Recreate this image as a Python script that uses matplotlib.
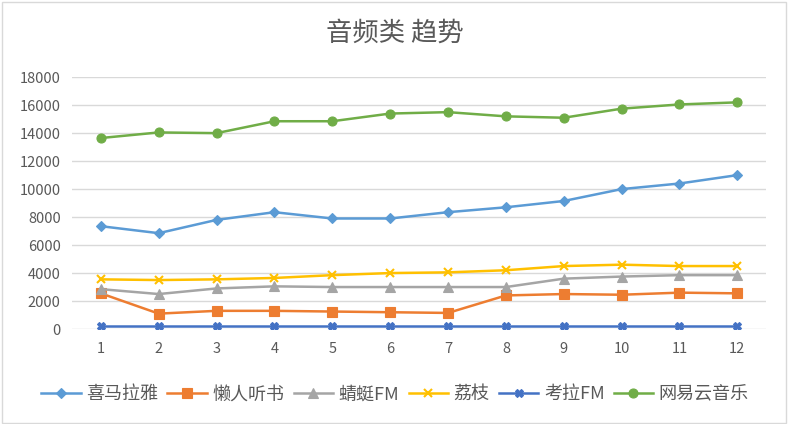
import matplotlib
matplotlib.use('Agg')
import matplotlib.pyplot as plt
from matplotlib.patches import Rectangle

plt.rcParams['font.family'] = ['Noto Sans CJK SC', 'DejaVu Sans']

months = [1, 2, 3, 4, 5, 6, 7, 8, 9, 10, 11, 12]

ximalaya = [7350, 6850, 7800, 8350, 7900, 7900, 8350, 8700, 9150, 10000, 10400, 11000]
lanren = [2550, 1100, 1300, 1300, 1250, 1200, 1150, 2400, 2500, 2450, 2600, 2550]
qingting = [2850, 2500, 2900, 3050, 3000, 3000, 3000, 3000, 3600, 3750, 3850, 3850]
lizhi = [3550, 3500, 3550, 3650, 3850, 4000, 4050, 4200, 4500, 4600, 4500, 4500]
kaola = [250, 250, 250, 250, 250, 250, 250, 250, 250, 250, 250, 250]
wangyi = [13650, 14050, 14000, 14850, 14850, 15400, 15500, 15200, 15100, 15750, 16050, 16200]

series_names = ['喜马拉雅', '懒人听书', '蜻蜓FM', '荔枝', '考拉FM', '网易云音乐']
series_data = [ximalaya, lanren, qingting, lizhi, kaola, wangyi]
colors = ['#5B9BD5', '#ED7D31', '#A5A5A5', '#FFC000', '#4472C4', '#70AD47']
markers = ['D', 's', '^', 'x', 'X', 'o']
msizes = [5, 6.5, 6.5, 5.5, 6, 6.5]

fig = plt.figure(figsize=(7.9, 4.24), dpi=100)
ax = fig.add_axes([0.091, 0.224, 0.879, 0.594])

for name, vals, c, m, ms in zip(series_names, series_data, colors, markers, msizes):
    ax.plot(months, vals, color=c, marker=m, markersize=ms, linewidth=1.8,
            markeredgewidth=1.5 if m == 'x' else 0.8, label=name)

ax.set_xlim(0.5, 12.5)
ax.set_ylim(0, 18000)
ax.set_yticks(range(0, 18001, 2000))
ax.set_xticks(months)
ax.grid(axis='y', color='#D9D9D9', linewidth=1)
ax.set_axisbelow(True)
for s in ax.spines.values():
    s.set_visible(False)
ax.tick_params(length=0, labelsize=10.5, colors='#595959')
ax.tick_params(axis='x', pad=9)
ax.tick_params(axis='y', pad=8)

fig.text(0.5, 0.922, '音频类 趋势', ha='center', va='center', fontsize=19, color='#595959')

fig.legend(loc='center', bbox_to_anchor=(0.5, 0.07), ncol=6, frameon=False,
           fontsize=13, handlelength=2.2, handletextpad=0.3, columnspacing=0.5,
           labelcolor='#595959')

fig.patches.append(Rectangle((0.002, 0.003), 0.993, 0.993, transform=fig.transFigure,
                             fill=False, edgecolor='#D9D9D9', linewidth=1))

fig.savefig('out.png', dpi=100)
